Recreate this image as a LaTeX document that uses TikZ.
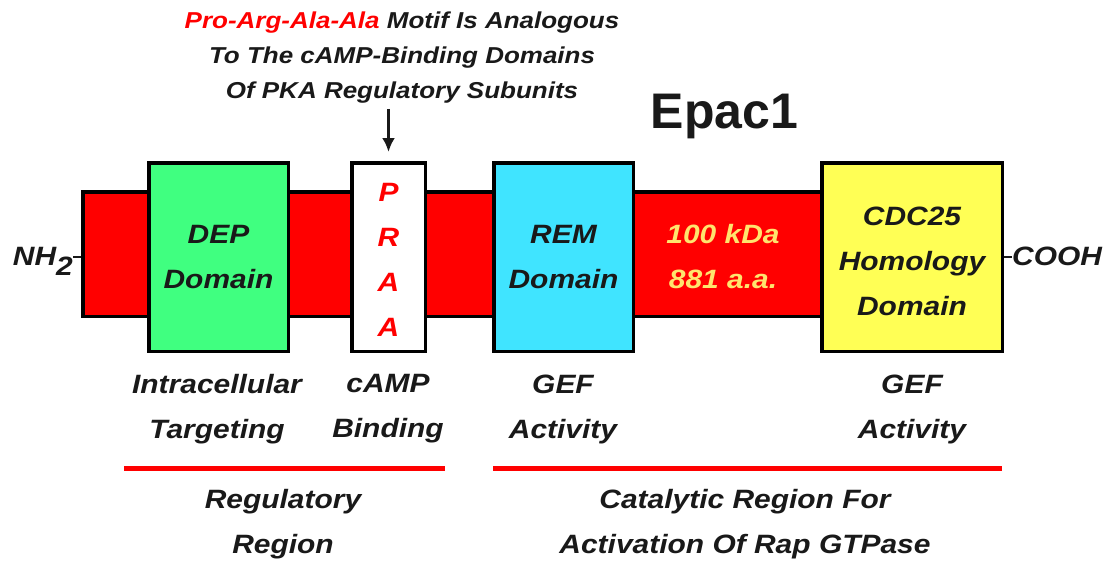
\documentclass[tikz,border=0pt]{standalone}
\usepackage{fontspec}
\setmainfont{Liberation Sans}[FakeStretch=1.13]
\newfontfamily\titlefont{Liberation Sans}
\usetikzlibrary{arrows.meta}
\definecolor{R}{RGB}{255, 0, 0}
\definecolor{G}{RGB}{64, 255, 128}
\definecolor{C}{RGB}{64, 228, 255}
\definecolor{Y}{RGB}{255, 255, 85}
\definecolor{T}{RGB}{255, 228, 110}
\definecolor{K}{RGB}{25, 25, 25}

\begin{document}
\begin{tikzpicture}[x=1pt,y=-1pt,
    dom/.style={draw=black, line width=3.5pt, inner sep=0pt, align=center, text=K,
        font=\bfseries\itshape\fontsize{26.5}{45}\selectfont},
    lbl/.style={inner sep=0pt, align=center, text=K,
        font=\bfseries\itshape\fontsize{26.5}{45}\selectfont},
    regline/.style={draw=R, line width=5pt}]
	\fill[white] (0,0) rectangle (1105,560);
	\useasboundingbox (0,0) rectangle (1105,560);

	%Title and note
	\node[anchor=base, text=K, font=\titlefont\bfseries\fontsize{50}{60}\selectfont] (title) at (724.5,128) {Epac1};
	\node[lbl, font=\bfseries\itshape\fontsize{23}{35}\selectfont] (motif) at (402,57.5)
		{{\color{R}Pro-Arg-Ala-Ala} Motif Is Analogous\\To The cAMP-Binding Domains\\Of PKA Regulatory Subunits};

	%Protein bar (first, the boxes go on top)
	\node[draw=black, fill=R, line width=3.5pt, minimum width=750, minimum height=124.5] (bar) at (457.75,254) {};

	%Domains
	\node[dom, fill=G, minimum width=139.5, minimum height=188.5] (dep) at (218.5,257) {DEP\\Domain};
	\node[dom, fill=white, text=R, minimum width=73.5, minimum height=188.5] (praa) at (388.5,257) {\rule{0pt}{23pt}P\\R\\A\\A};
	\node[dom, fill=Y, minimum width=180.5, minimum height=188.5] (cdc) at (912,257) {\rule{0pt}{27pt}CDC25\\Homology\\Domain};
	\node[dom, fill=C, minimum width=139.5, minimum height=188.5] (rem) at (563.5,257) {REM\\Domain};
	\node[lbl, text=T] (size) at (723,257) {100 kDa\\881 a.a.};

	%Ends
	\node[lbl, anchor=base east] (nh) at (73,265) {NH\raisebox{-10pt}{2}};
	\node[lbl, anchor=base west] (cooh) at (1012,265) {COOH};
	\draw[K, line width=2.5pt] (nh.east |- dep.center) -- (bar.west |- dep.center);
	\draw[K, line width=2.5pt] (cdc.east) -- (cdc.east -| cooh.west);

	%Arrow to the motif
	\draw[-{Latex[length=14pt,width=13pt]}, K, line width=3pt, shorten <=5.5pt, shorten >=9pt]
		(motif.south -| praa.north) -- (praa.north);

	%Functions
	\node[lbl] (tgt) at (217,409) {Intracellular\\Targeting};
	\node[lbl] (bind) at (388,409) {cAMP\\Binding};
	\node[lbl] (gef1) at (563,409) {GEF\\Activity};
	\node[lbl] (gef2) at (912,409) {GEF\\Activity};

	%Regions
	\draw[regline] (124,468) -- (445,468);
	\draw[regline] (493,468) -- (1002,468);
	\node[lbl] (reg) at (283,524) {Regulatory\\Region};
	\node[lbl] (cat) at (745,524) {Catalytic Region For\\Activation Of Rap GTPase};
\end{tikzpicture}
\end{document}
